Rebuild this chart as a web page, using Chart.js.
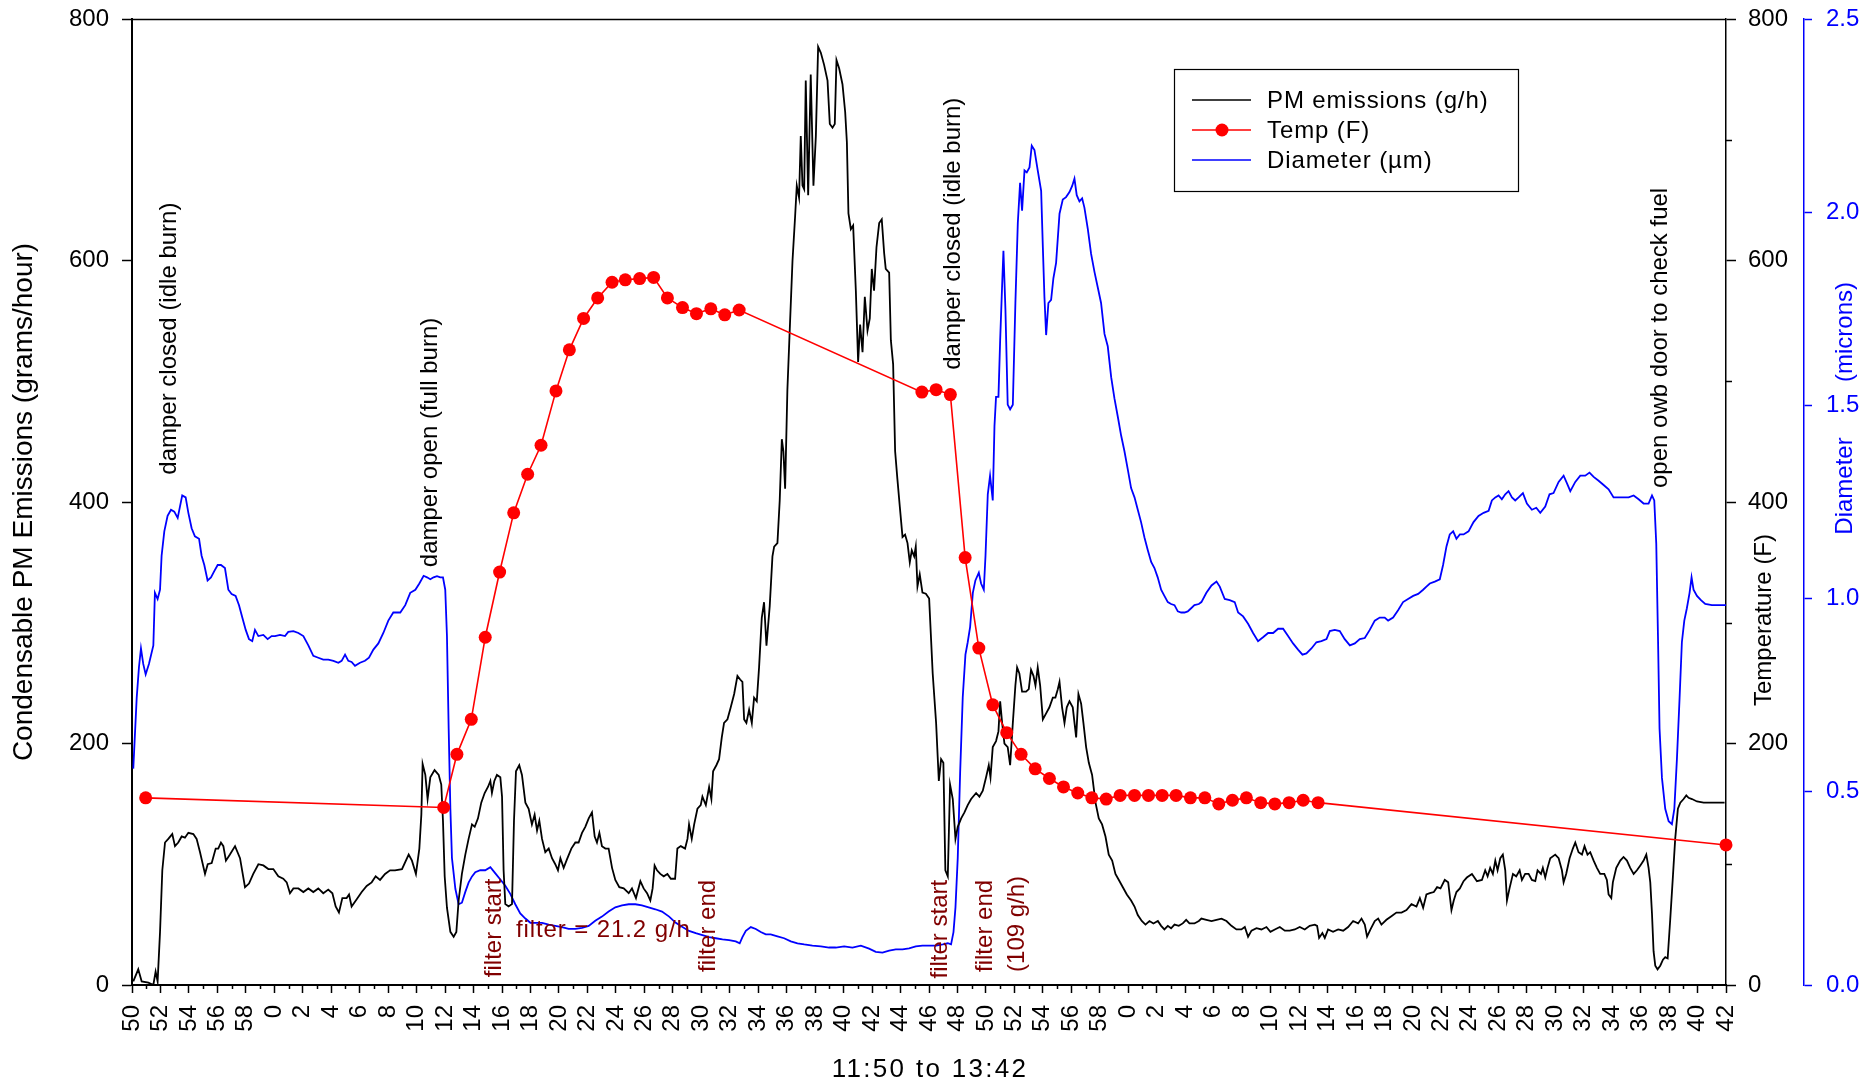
<!DOCTYPE html>
<html><head><meta charset="utf-8">
<script src="https://cdn.jsdelivr.net/npm/chart.js@4.4.1/dist/chart.umd.min.js"></script>
<style>html,body{margin:0;padding:0;background:#fff;}canvas{display:block;}</style>
</head><body>
<canvas id="c" width="1860" height="1084"></canvas>
<script>
// ---- tick labels (minutes of the hour, 11:50 .. 13:42, every 2 min) ----
const xTickLabels = ['50','52','54','56','58',
 '0','2','4','6','8','10','12','14','16','18','20','22','24','26','28','30','32','34','36','38','40','42','44','46','48','50','52','54','56','58',
 '0','2','4','6','8','10','12','14','16','18','20','22','24','26','28','30','32','34','36','38','40','42'];

// ---- PM emissions (g/h), time in minutes after 11:50 ----
const pmMinutes = [0.09,0.44,0.68,1.15,1.5,1.66,1.8,1.97,2.13,2.32,2.55,2.83,3.02,3.25,3.49,3.72,3.96,4.31,4.54,4.78,5.13,5.32,5.6,5.88,6.06,6.25,6.42,6.6,6.88,7.24,7.59,7.94,8.22,8.52,8.88,9.23,9.58,9.93,10.28,10.63,10.87,11.1,11.34,11.69,12.04,12.39,12.74,13.09,13.44,13.79,14.08,14.31,14.54,14.78,15.08,15.25,15.43,15.79,16.14,16.49,16.84,17.12,17.43,17.78,18.13,18.48,18.97,19.44,19.67,19.95,20.19,20.33,20.42,20.61,20.77,20.96,21.26,21.55,21.73,21.85,21.97,22.13,22.37,22.6,22.79,22.95,23.18,23.42,23.65,23.89,24.08,24.31,24.54,24.78,25.01,25.18,25.29,25.46,25.64,25.88,26.0,26.11,26.23,26.46,26.7,26.84,26.98,27.21,27.4,27.64,27.87,28.1,28.29,28.46,28.62,28.81,29.04,29.28,29.51,29.74,29.93,30.1,30.33,30.56,30.87,31.15,31.38,31.62,31.85,32.09,32.32,32.51,32.67,32.84,33.02,33.26,33.49,33.73,33.96,34.24,34.55,34.9,35.13,35.41,35.72,35.95,36.19,36.42,36.58,36.72,36.89,37.12,37.36,37.62,37.86,38.16,38.32,38.56,38.86,39.03,39.14,39.33,39.5,39.73,39.96,40.08,40.32,40.55,40.71,40.83,41.06,41.25,41.44,41.6,41.84,42.07,42.31,42.54,42.73,42.89,43.01,43.17,43.36,43.55,43.71,43.9,44.06,44.25,44.41,44.58,44.81,45.0,45.12,45.35,45.51,45.66,45.77,45.89,46.05,46.22,46.41,46.59,46.71,46.87,46.99,47.11,47.23,47.34,47.51,47.69,47.88,48.05,48.21,48.4,48.63,48.87,49.03,49.22,49.38,49.5,49.69,49.92,50.11,50.23,50.34,50.51,50.67,50.86,51.02,51.16,51.33,51.49,51.68,51.84,51.98,52.14,52.31,52.5,52.68,52.85,52.96,53.2,53.32,53.48,53.62,53.78,53.95,54.14,54.32,54.49,54.65,54.79,54.96,55.07,55.19,55.35,55.54,55.78,56.01,56.26,56.5,56.69,56.85,57.01,57.15,57.32,57.48,57.67,57.86,58.02,58.26,58.49,58.72,58.96,59.31,59.54,59.78,60.01,60.2,60.32,60.48,60.71,60.88,61.0,61.14,61.3,61.53,61.7,61.89,62.07,62.19,62.35,62.54,62.82,63.01,63.17,63.34,63.48,63.64,63.81,64.0,64.23,64.46,64.7,64.88,65.05,65.17,65.35,65.52,65.68,65.87,66.1,66.34,66.5,66.69,66.85,67.04,67.23,67.46,67.7,67.93,68.16,68.4,68.63,68.87,69.1,69.34,69.62,69.9,70.2,70.44,70.67,70.95,71.21,71.49,71.77,72.08,72.31,72.54,72.78,73.01,73.25,73.55,73.83,74.07,74.3,74.65,74.96,75.14,75.49,75.85,76.2,76.55,76.9,77.25,77.6,77.95,78.19,78.42,78.66,79.01,79.36,79.71,79.99,80.3,80.65,81.0,81.35,81.7,82.05,82.4,82.75,83.11,83.27,83.41,83.64,83.81,84.04,84.39,84.75,85.1,85.45,85.8,86.15,86.39,86.62,86.78,87.02,87.32,87.56,87.79,88.14,88.49,88.84,89.2,89.55,89.9,90.25,90.49,90.72,90.95,91.19,91.47,91.7,91.94,92.24,92.48,92.71,92.87,93.06,93.3,93.56,93.79,94.15,94.5,94.85,95.08,95.25,95.43,95.62,95.79,95.95,96.14,96.32,96.49,96.61,96.79,97.03,97.26,97.5,97.66,97.89,98.13,98.36,98.6,98.76,99.0,99.13,99.3,99.46,99.65,100.0,100.24,100.47,100.59,100.77,101.01,101.24,101.41,101.64,101.88,102.06,102.27,102.46,102.7,102.93,103.16,103.45,103.63,103.75,103.94,104.05,104.29,104.57,104.8,105.04,105.27,105.51,105.74,105.98,106.21,106.4,106.56,106.68,106.8,106.91,107.03,107.19,107.38,107.57,107.73,107.9,108.08,108.27,108.43,108.62,108.79,109.02,109.21,109.37,109.61,109.96,110.43,111.13,111.9];
const pmValues = [3,13,3,2,0,11,3,44,95,118,121,125,115,118,123,122,126,125,121,110,92,100,101,113,113,118,115,103,108,115,105,81,84,92,100,99,96,96,90,88,85,76,80,80,77,80,77,80,76,79,76,65,60,72,72,75,65,71,77,82,85,90,87,92,95,95,96,108,103,92,113,141,183,174,154,172,178,174,166,136,90,64,44,40,44,70,92,108,121,133,131,138,151,159,164,169,159,169,174,172,156,95,67,65,67,136,177,182,174,151,146,133,141,128,136,121,110,113,105,100,95,105,97,104,113,118,118,126,131,138,143,123,118,126,115,113,113,97,87,81,80,76,80,72,86,80,76,70,80,99,95,92,90,92,88,88,113,115,113,121,133,121,133,146,149,156,149,164,154,177,182,187,205,217,220,230,241,256,253,251,220,217,228,217,238,235,263,304,317,281,314,355,363,366,401,452,442,411,493,544,600,636,662,652,703,662,659,749,654,754,662,703,777,772,762,749,713,710,713,766,759,746,723,698,639,626,629,575,516,547,524,570,542,552,593,575,611,631,634,606,593,590,534,514,442,419,396,371,373,366,350,360,355,363,330,340,325,324,320,258,217,169,187,184,95,90,166,154,121,131,138,143,149,154,159,156,161,172,182,172,197,202,210,235,217,200,197,182,217,248,263,258,243,243,245,261,256,248,263,248,220,225,230,238,238,245,251,230,217,230,235,230,205,241,233,217,197,184,174,151,138,133,123,108,103,92,87,81,75,70,65,58,53,50,53,51,53,49,46,49,47,50,49,51,54,51,51,53,55,54,53,54,55,53,49,46,46,48,40,45,47,46,48,44,46,48,45,45,46,48,46,49,50,49,39,43,39,46,44,46,45,48,53,51,55,50,40,46,53,55,50,54,57,60,60,62,67,65,72,64,75,76,77,81,80,87,85,62,70,77,80,86,89,92,86,87,95,90,97,92,103,95,105,108,95,70,80,92,90,95,87,92,92,87,86,95,92,97,89,97,105,108,105,95,85,92,105,113,118,110,108,115,108,110,103,97,92,92,87,75,72,85,97,103,106,103,97,92,95,99,103,108,97,85,59,28,16,13,16,21,23,22,54,90,121,146,151,154,157,155,154,152,151,151,151];

// ---- Temperature (F) ----
const tempMinutes = [0.96,21.9,22.83,23.84,24.82,25.83,26.82,27.8,28.74,29.79,30.73,31.73,32.72,33.73,34.66,35.67,36.65,37.62,38.68,39.66,40.67,41.65,42.66,55.5,56.5,57.5,58.54,59.5,60.48,61.46,62.47,63.46,64.46,65.45,66.45,67.44,68.45,69.43,70.44,71.42,72.38,73.36,74.37,75.38,76.36,77.32,78.3,79.31,80.3,81.3,82.29,83.34,112];
const tempValues = [155,147,191,220,288,342,391,423,447,492,526,552,569,582,584,585,586,569,561,556,560,555,559,491,493,489,354,279,232,209,191,179,171,164,159,155,154,157,157,157,157,157,155,155,150,153,155,151,150,151,153,151,116];

// ---- Diameter (µm) ----
const diamMinutes = [0.09,0.33,0.49,0.63,0.79,0.96,1.19,1.5,1.61,1.8,1.97,2.08,2.27,2.5,2.74,2.97,3.21,3.37,3.53,3.77,3.96,4.19,4.42,4.71,4.89,5.08,5.31,5.55,5.78,6.02,6.25,6.53,6.77,7.0,7.28,7.52,7.75,7.99,8.22,8.45,8.64,8.88,9.23,9.53,9.81,10.05,10.4,10.75,10.98,11.34,11.69,12.04,12.39,12.74,13.09,13.44,13.79,14.15,14.5,14.73,14.97,15.2,15.43,15.67,16.02,16.37,16.65,16.96,17.31,17.66,18.01,18.36,18.67,18.85,19.2,19.55,19.91,20.19,20.49,20.73,20.96,21.19,21.43,21.66,21.85,22.01,22.13,22.25,22.37,22.48,22.72,22.95,23.18,23.42,23.65,23.89,24.12,24.47,24.82,25.18,25.53,25.88,26.23,26.58,26.93,27.28,27.64,27.99,28.34,28.81,29.28,29.74,30.21,30.68,31.15,31.62,32.09,32.55,33.02,33.49,33.96,34.43,34.9,35.37,35.83,36.3,36.77,37.24,37.74,38.21,38.68,39.14,39.61,40.08,40.55,41.02,41.49,41.95,42.42,42.7,42.89,43.13,43.48,43.83,44.18,44.53,44.88,45.35,45.82,46.29,46.76,47.23,47.81,48.4,48.98,49.45,50.04,50.62,51.21,51.79,52.26,52.73,53.2,53.67,54.14,54.6,55.07,55.54,56.03,56.5,56.97,57.32,57.55,57.72,57.86,58.02,58.19,58.37,58.56,58.72,58.89,59.08,59.26,59.5,59.66,59.85,59.97,60.13,60.29,60.48,60.6,60.71,60.88,61.0,61.14,61.23,61.37,61.53,61.7,61.89,62.07,62.24,62.4,62.54,62.71,62.87,63.06,63.22,63.41,63.64,63.88,64.0,64.11,64.23,64.39,64.58,64.74,64.93,65.17,65.4,65.63,65.87,66.06,66.22,66.38,66.57,66.76,66.92,67.16,67.39,67.63,67.86,68.09,68.33,68.56,68.8,69.03,69.27,69.5,69.73,69.97,70.2,70.44,70.67,70.9,71.14,71.37,71.61,71.84,72.07,72.31,72.54,72.78,73.01,73.25,73.48,73.72,73.95,74.18,74.42,74.65,74.96,75.14,75.49,75.85,76.2,76.43,76.78,77.13,77.48,77.72,78.07,78.42,78.77,79.12,79.47,79.83,80.18,80.53,80.88,81.23,81.58,81.93,82.24,82.52,82.87,83.22,83.57,83.93,84.16,84.51,84.86,85.21,85.57,85.92,86.27,86.62,86.97,87.32,87.67,88.02,88.26,88.61,88.96,89.31,89.66,90.02,90.37,90.72,90.95,91.19,91.54,91.89,92.12,92.36,92.59,92.83,93.06,93.3,93.56,93.91,94.26,94.61,94.97,95.32,95.55,95.79,96.02,96.25,96.49,96.72,96.96,97.19,97.43,97.73,98.01,98.36,98.67,98.95,99.3,99.6,99.88,100.24,100.59,100.82,101.06,101.41,101.76,102.11,102.41,102.7,103.05,103.4,103.75,104.1,104.45,104.8,105.16,105.51,105.86,106.21,106.56,106.8,106.96,107.1,107.22,107.33,107.5,107.73,107.97,108.2,108.37,108.55,108.74,108.9,109.07,109.25,109.44,109.58,109.72,109.96,110.24,110.54,111.01,111.6,112.0];
const diamValues = [0.56,0.743,0.823,0.871,0.831,0.804,0.831,0.879,1.015,0.999,1.023,1.111,1.174,1.214,1.23,1.225,1.209,1.238,1.267,1.262,1.222,1.182,1.161,1.155,1.111,1.087,1.047,1.055,1.071,1.087,1.087,1.079,1.023,1.012,1.007,0.983,0.951,0.919,0.895,0.89,0.919,0.903,0.906,0.895,0.903,0.903,0.906,0.903,0.914,0.916,0.911,0.903,0.879,0.852,0.847,0.842,0.842,0.839,0.834,0.839,0.855,0.839,0.836,0.826,0.834,0.839,0.847,0.868,0.884,0.911,0.943,0.964,0.964,0.964,0.983,1.015,1.023,1.039,1.059,1.055,1.05,1.055,1.058,1.055,1.055,1.023,0.903,0.664,0.456,0.329,0.249,0.209,0.213,0.241,0.265,0.281,0.292,0.297,0.297,0.305,0.289,0.273,0.257,0.236,0.209,0.185,0.172,0.161,0.161,0.161,0.156,0.153,0.15,0.145,0.145,0.148,0.153,0.166,0.177,0.19,0.201,0.206,0.209,0.209,0.206,0.201,0.196,0.19,0.177,0.161,0.15,0.14,0.134,0.129,0.124,0.121,0.118,0.116,0.113,0.108,0.124,0.14,0.15,0.145,0.137,0.131,0.131,0.126,0.121,0.113,0.108,0.105,0.102,0.1,0.097,0.097,0.1,0.097,0.102,0.094,0.086,0.084,0.089,0.092,0.092,0.095,0.1,0.102,0.102,0.102,0.105,0.108,0.105,0.137,0.201,0.329,0.552,0.744,0.855,0.887,0.927,1.015,1.047,1.067,1.039,1.023,1.111,1.27,1.318,1.254,1.446,1.522,1.522,1.669,1.813,1.9,1.749,1.502,1.49,1.502,1.765,1.972,2.076,2.004,2.108,2.103,2.116,2.172,2.161,2.108,2.055,1.909,1.781,1.682,1.765,1.773,1.829,1.869,1.996,2.033,2.039,2.052,2.068,2.087,2.044,2.028,2.036,2.012,1.956,1.892,1.845,1.805,1.765,1.685,1.653,1.573,1.518,1.47,1.422,1.382,1.334,1.286,1.262,1.23,1.198,1.158,1.126,1.095,1.079,1.055,1.023,1.007,0.991,0.986,0.983,0.967,0.964,0.964,0.967,0.975,0.983,0.986,0.991,1.015,1.034,1.044,1.031,0.999,0.996,0.991,0.964,0.954,0.935,0.911,0.89,0.9,0.911,0.911,0.922,0.922,0.903,0.884,0.868,0.855,0.858,0.871,0.887,0.89,0.895,0.916,0.919,0.916,0.895,0.879,0.884,0.895,0.898,0.919,0.943,0.951,0.951,0.943,0.951,0.97,0.991,0.999,1.007,1.012,1.023,1.031,1.039,1.044,1.05,1.087,1.135,1.166,1.174,1.155,1.166,1.166,1.174,1.198,1.214,1.222,1.227,1.254,1.262,1.267,1.257,1.27,1.278,1.262,1.254,1.262,1.273,1.246,1.23,1.235,1.222,1.238,1.27,1.273,1.302,1.318,1.299,1.278,1.302,1.318,1.318,1.326,1.315,1.305,1.294,1.283,1.262,1.262,1.262,1.262,1.267,1.257,1.246,1.246,1.267,1.254,1.142,0.903,0.664,0.536,0.456,0.424,0.416,0.456,0.584,0.744,0.887,0.943,0.975,1.015,1.055,1.023,1.007,0.996,0.986,0.983,0.983,0.983];

// ---- Legend entries and annotations ----
const legendLabels = ['PM emissions (g/h)', 'Temp (F)', 'Diameter (\u00b5m)'];
const eventNotes = ['damper closed (idle burn)', 'damper open (full burn)', 'damper closed (idle burn)', 'open owb door to check fuel'];
const eventMinutes = [2.62, 20.96, 57.72, 107.4];
const eventBase = [422.6, 346, 509.5, 411.6];            // in g/h axis units (bottom of text)
const filterNotes = ['filter start', 'filter end', 'filter start', 'filter end', '(109 g/h)'];
const filterMinutes = [25.47, 40.53, 56.8, 59.93, 62.18];
const filterBase = [6.5, 10.8, 5.4, 10.8, 10.8];
const filterRateNote = 'filter = 21.2 g/h';
const filterRateAt = [26.98, 45];

const FONT = "'Liberation Sans', Arial, Helvetica, sans-serif";
Chart.defaults.font.family = FONT;
Chart.defaults.color = '#000';

const toXY = (xs, ys) => xs.map((x, i) => ({x: x, y: ys[i]}));
const BLUE = '#0000ff', RED = '#ff0000', MAROON = '#800000';

function rotText(ctx, text, x, y, align) {
  ctx.save();
  ctx.translate(x, y);
  ctx.rotate(-Math.PI / 2);
  ctx.textAlign = align;
  ctx.textBaseline = 'middle';
  ctx.fillText(text, 0, 0);
  ctx.restore();
}
function noVPad(s, w) { s.width = w; s.paddingTop = 0; s.paddingBottom = 0; }

const decor = {
  id: 'decor',
  afterDraw(chart) {
    const ctx = chart.ctx;
    const ca = chart.chartArea;
    const xs = chart.scales.x, yl = chart.scales.y, yt = chart.scales.yT;
    ctx.save();
    // top frame line
    ctx.strokeStyle = '#000'; ctx.lineWidth = 1.5;
    ctx.beginPath(); ctx.moveTo(ca.left, ca.top + 0.5); ctx.lineTo(ca.right, ca.top + 0.5); ctx.stroke();
    // minor x ticks (odd minutes)
    ctx.lineWidth = 1.5;
    for (let m = 1; m < 112; m += 2) {
      const px = Math.round(xs.getPixelForValue(m)) + 0.5;
      ctx.beginPath(); ctx.moveTo(px, ca.bottom); ctx.lineTo(px, ca.bottom + 4); ctx.stroke();
    }
    // minor temperature ticks
    for (let v = 100; v < 800; v += 200) {
      const py = Math.round(yt.getPixelForValue(v)) + 0.5;
      ctx.beginPath(); ctx.moveTo(ca.right, py); ctx.lineTo(ca.right + 6, py); ctx.stroke();
    }
    // axis titles
    ctx.fillStyle = '#000';
    ctx.font = '28px ' + FONT;
    rotText(ctx, 'Condensable PM Emissions (grams/hour)', 24, (ca.top + ca.bottom) / 2, 'center');
    ctx.font = '24px ' + FONT;
    rotText(ctx, 'Temperature (F)', 1764, 620, 'center');
    ctx.fillStyle = BLUE;
    rotText(ctx, '(microns)', 1845, 332, 'center');
    rotText(ctx, 'Diameter', 1845, 486, 'center');
    ctx.fillStyle = '#000';
    ctx.font = '26px ' + FONT;
    ctx.letterSpacing = '2.3px';
    ctx.textAlign = 'center'; ctx.textBaseline = 'middle';
    ctx.fillText('11:50 to 13:42', (ca.left + ca.right) / 2 + 1, 1070);
    ctx.letterSpacing = '0px';

    // event annotations
    ctx.font = '24px ' + FONT;
    ctx.fillStyle = '#000';
    eventNotes.forEach((t, i) => rotText(ctx, t, xs.getPixelForValue(eventMinutes[i]), yl.getPixelForValue(eventBase[i]), 'left'));
    ctx.fillStyle = MAROON;
    filterNotes.forEach((t, i) => rotText(ctx, t, xs.getPixelForValue(filterMinutes[i]), yl.getPixelForValue(filterBase[i]), 'left'));
    ctx.letterSpacing = '0.9px';
    ctx.textAlign = 'left'; ctx.textBaseline = 'middle';
    ctx.fillText(filterRateNote, xs.getPixelForValue(filterRateAt[0]), yl.getPixelForValue(filterRateAt[1]));
    ctx.letterSpacing = '0px';

    // legend
    const L = 1174, T = 69, R = 1518, B = 191;
    ctx.fillStyle = '#fff';
    ctx.fillRect(L, T, R - L, B - T);
    ctx.strokeStyle = '#000'; ctx.lineWidth = 1.2;
    ctx.strokeRect(L + 0.5, T + 0.5, R - L, B - T);
    const rows = [100, 130, 160];
    const cols = [ '#000', RED, BLUE ];
    rows.forEach((ry, i) => {
      ctx.strokeStyle = cols[i]; ctx.lineWidth = 1.5;
      ctx.beginPath(); ctx.moveTo(1192, ry); ctx.lineTo(1251, ry); ctx.stroke();
      if (i === 1) { ctx.fillStyle = RED; ctx.beginPath(); ctx.arc(1222, ry, 6.5, 0, Math.PI * 2); ctx.fill(); }
      ctx.fillStyle = '#000';
      ctx.font = '24px ' + FONT;
      ctx.letterSpacing = '0.9px';
      ctx.textAlign = 'left'; ctx.textBaseline = 'middle';
      ctx.fillText(legendLabels[i], 1267, ry + 1);
      ctx.letterSpacing = '0px';
    });
    ctx.restore();
  }
};

new Chart(document.getElementById('c').getContext('2d'), {
  type: 'line',
  data: {
    datasets: [
      { label: legendLabels[1], data: toXY(tempMinutes, tempValues), yAxisID: 'yT', borderColor: RED, backgroundColor: RED,
        borderWidth: 1.6, pointRadius: 6.5, pointHoverRadius: 6.5, pointBackgroundColor: RED, pointBorderColor: RED, pointBorderWidth: 0,
        tension: 0, clip: false },
      { label: legendLabels[0], data: toXY(pmMinutes, pmValues), yAxisID: 'y', borderColor: '#000', borderWidth: 1.8,
        pointRadius: 0, tension: 0 },
      { label: legendLabels[2], data: toXY(diamMinutes, diamValues), yAxisID: 'yD', borderColor: BLUE, borderWidth: 1.8,
        pointRadius: 0, tension: 0 }
    ]
  },
  options: {
    responsive: false, animation: false, devicePixelRatio: 1,
    layout: { padding: { top: 19, right: 0, bottom: 0, left: 0 } },
    plugins: { legend: { display: false }, tooltip: { enabled: false } },
    scales: {
      x: { type: 'linear', min: 0, max: 112, position: 'bottom',
        afterFit(s) { s.height = 99; },
        ticks: { stepSize: 2, autoSkip: false, minRotation: 90, maxRotation: 90, padding: 12, font: { size: 24 }, color: '#000',
          callback: (v) => xTickLabels[Math.round(v / 2)] },
        grid: { drawOnChartArea: false, drawTicks: true, tickLength: 8, color: '#000', tickWidth: 1.5 },
        border: { display: true, color: '#000', width: 2 } },
      y: { position: 'left', min: 0, max: 800,
        afterFit(s) { noVPad(s, 132); },
        ticks: { stepSize: 200, padding: 13, font: { size: 24 }, color: '#000' },
        grid: { drawOnChartArea: false, tickLength: 10, color: '#000', tickWidth: 1.5 },
        border: { color: '#000', width: 2 } },
      yT: { position: 'right', min: 0, max: 800,
        afterFit(s) { noVPad(s, 78); },
        ticks: { stepSize: 200, padding: 12, font: { size: 24 }, color: '#000' },
        grid: { drawOnChartArea: false, tickLength: 10, color: '#000', tickWidth: 1.5 },
        border: { color: '#000', width: 1.5 } },
      yD: { position: 'right', min: 0, max: 2.5,
        afterFit(s) { noVPad(s, 56); },
        ticks: { stepSize: 0.5, padding: 14, font: { size: 24 }, color: BLUE, callback: (v) => Number(v).toFixed(1) },
        grid: { drawOnChartArea: false, tickLength: 8, color: BLUE, tickWidth: 1.5 },
        border: { color: BLUE, width: 1.5 } }
    }
  },
  plugins: [decor]
});
</script>
</body></html>
